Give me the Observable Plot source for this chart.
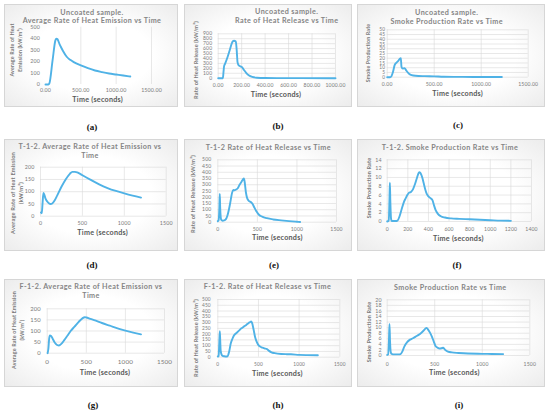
<!DOCTYPE html>
<html><head><meta charset="utf-8">
<script src="https://cdn.jsdelivr.net/npm/d3@7"></script>
<script src="https://cdn.jsdelivr.net/npm/@observablehq/plot@0.6"></script>
<style>
body{margin:0;background:#fff;}
#root{position:relative;width:550px;height:413px;overflow:hidden;font-family:Lato,"Open Sans",sans-serif;}
.panel{position:absolute;box-sizing:border-box;border:1px solid #d6d6d6;background:radial-gradient(ellipse at center,#ffffff 50%,#ececec 100%);}
.t{position:absolute;white-space:nowrap;transform:translate(-50%,-50%);font-weight:700;line-height:1;}
.r{transform:translate(-50%,-50%) rotate(-90deg);}
.cap{position:absolute;transform:translate(-50%,-50%);font-family:"Liberation Serif","DejaVu Serif",serif;font-weight:bold;font-size:9px;color:#111;}
</style></head><body><div id="root"></div><script>
// ---- data (time in seconds, values) ----
const aT = [0, 40, 55, 100, 140, 155, 170, 200, 220, 250, 300, 350, 400, 500, 600, 700, 800, 900, 1000, 1100, 1200];
const aV = [0, 0, 10, 210, 385, 400, 395, 350, 325, 290, 242, 215, 195, 166, 142, 122, 108, 96, 87, 78, 70];

const bT = [0, 40, 45, 50, 60, 80, 100, 115, 125, 135, 150, 158, 165, 175, 190, 205, 220, 240, 260, 290, 330, 400, 500, 700, 1000];
const bV = [0, 0, 120, 240, 300, 430, 580, 700, 750, 760, 745, 560, 320, 260, 240, 220, 165, 105, 60, 25, 10, 4, 2, 1, 0];

const cT = [0, 30, 45, 60, 80, 100, 120, 135, 145, 152, 165, 185, 200, 215, 235, 260, 300, 400, 500, 600, 800, 1000, 1220];
const cV = [0, 0, 1, 5, 13, 15.5, 17.5, 19.5, 20, 11, 9, 9.5, 7.5, 5.5, 3.5, 2.2, 1.5, 1.1, 0.9, 0.5, 0.3, 0.2, 0.2];

const dT = [5, 15, 25, 35, 45, 60, 80, 100, 120, 140, 170, 200, 250, 300, 350, 380, 410, 450, 500, 600, 700, 800, 900, 1000, 1100, 1200];
const dV = [15, 12, 55, 95, 88, 72, 60, 53, 50, 52, 65, 85, 120, 150, 173, 181, 181, 177, 167, 148, 130, 115, 103, 93, 84, 76];

const eT = [0, 10, 20, 25, 30, 38, 45, 60, 80, 100, 120, 140, 160, 180, 195, 210, 230, 250, 275, 300, 320, 330, 340, 355, 370, 390, 420, 440, 460, 490, 520, 560, 620, 700, 800, 900, 1000, 1040];
const eV = [8, 15, 120, 227, 120, 35, 18, 12, 14, 22, 50, 100, 165, 235, 258, 255, 262, 270, 300, 325, 345, 350, 320, 240, 195, 172, 160, 145, 120, 85, 60, 45, 32, 22, 15, 9, 4, 2];

const fT = [0, 15, 22, 26, 30, 38, 45, 60, 80, 100, 120, 140, 160, 180, 195, 210, 230, 250, 270, 290, 305, 315, 325, 340, 355, 370, 385, 400, 420, 440, 455, 470, 490, 520, 560, 620, 700, 800, 900, 1000, 1100, 1200];
const fV = [0, 0.2, 5, 8.8, 5, 0.5, 0.1, 0.1, 0.1, 0.2, 1.2, 2.8, 4.3, 5.3, 6.0, 6.5, 6.7, 7.3, 8.5, 10.0, 11.0, 11.2, 10.9, 10.0, 8.6, 7.2, 6.2, 5.7, 5.3, 4.8, 3.6, 2.6, 1.8, 1.2, 0.9, 0.7, 0.6, 0.5, 0.4, 0.3, 0.2, 0.15];

const gT = [5, 15, 25, 35, 50, 70, 90, 110, 130, 150, 180, 220, 260, 300, 350, 400, 450, 480, 500, 550, 600, 700, 800, 900, 1000, 1100, 1200];
const gV = [0, 20, 65, 80, 78, 65, 52, 42, 36, 35, 42, 60, 80, 100, 120, 140, 157, 162, 161, 155, 149, 136, 124, 112, 102, 93, 85];

const hT = [0, 10, 18, 25, 30, 35, 45, 60, 80, 100, 120, 140, 160, 180, 200, 230, 260, 290, 320, 350, 380, 400, 410, 420, 440, 460, 480, 500, 520, 550, 580, 600, 630, 660, 700, 780, 850, 900, 1000, 1100, 1230];
const hV = [6, 10, 120, 225, 140, 60, 25, 12, 8, 6, 8, 50, 120, 160, 190, 210, 230, 250, 265, 280, 297, 305, 310, 300, 240, 170, 130, 105, 92, 82, 75, 72, 55, 42, 35, 28, 26, 25, 20, 18, 17];

const iT = [0, 10, 18, 24, 30, 36, 45, 60, 80, 100, 120, 140, 160, 180, 210, 240, 270, 300, 330, 360, 390, 405, 415, 430, 450, 470, 490, 510, 530, 550, 570, 590, 610, 640, 680, 750, 850, 1000, 1100, 1220];
const iV = [0.2, 0.4, 5, 11.3, 5, 1.5, 0.6, 0.4, 0.4, 0.4, 0.4, 0.5, 1.5, 3.2, 4.8, 5.7, 6.2, 6.8, 7.4, 8.2, 9.2, 9.8, 9.9, 9.3, 8.2, 6.8, 5, 3.3, 2.8, 2.5, 2.6, 2.8, 2.0, 1.4, 1.1, 0.9, 0.7, 0.6, 0.55, 0.5];

// tick labels
const xTicks1500 = [0, 500, 1000, 1500];
const xTicks1000 = [0, 200, 400, 600, 800, 1000];
const xTicks1400 = [0, 200, 400, 600, 800, 1000, 1200, 1400];
const yTicksA = [0, 100, 200, 300, 400, 500];
const yTicksB = d3.range(0, 901, 100);
const yTicksC = d3.range(0, 51, 5);
const yTicksD = [0, 50, 100, 150, 200];
const yTicksE = d3.range(0, 501, 50);
const yTicksF = d3.range(0, 15, 2);
const yTicksI = d3.range(0, 21, 2);

const captions = ["(a)", "(b)", "(c)", "(d)", "(e)", "(f)", "(g)", "(h)", "(i)"];
const titles = [
  ["Uncoated sample.", "Average Rate of Heat Emission vs Time"],
  ["Uncoated sample.", "Rate of Heat Release vs Time"],
  ["Uncoated sample.", "Smoke Production Rate vs Time"],
  ["T-1-2. Average Rate of Heat Emission vs", "Time"],
  ["T-1-2 Rate of Heat Release vs Time"],
  ["T-1-2. Smoke Production Rate vs Time"],
  ["F-1-2. Average Rate of Heat Emission vs", "Time"],
  ["F-1-2. Rate of Heat Release vs Time"],
  ["Smoke Production Rate vs Time"]
];
const yTitles = [
  ["Average Rate of Heat", "Emission (kW/m²)"],
  ["Rate of Heat Release (kW/m²)"],
  ["Smoke Production Rate"],
  ["Average Rate of Heat Emission", "(kW/m²)"],
  ["Rate of Heat Release (kW/m²)"],
  ["Smoke Production Rate"],
  ["Average Rate of Heat Emission", "(kW/m²)"],
  ["Rate of Heat Release (kW/m²)"],
  ["Smoke Production Rate"]
];
const xTitle = "Time (seconds)";

// ---- layout / style config ----
const f2 = d3.format(".2f"), f0 = d3.format("d");
const panels = [
  {T:aT,V:aV, box:[4,4,174,103], m:[22.7,27,23,41], xd:[0,1500], yd:[0,500], xt:xTicks1500, yt:yTicksA, gx:[500,1000,1500], gy:[], xf:f2, yf:f0, xfs:5.3, yfs:5.3, xp:4, yp:5.5,
   tc:[92,[13.3,21]], ytc:[[12.7,20.7],50,5.3], xtc:[97.7,100], cap:[92,127], curve:"monotone-x"},
  {T:bT,V:bV, box:[184,4,168,103], m:[29.3,17,29.3,33.7], xd:[0,1000], yd:[0,900], xt:xTicks1000, yt:yTicksB, gx:[0,200,400,600,800,1000], gy:yTicksB, xf:f2, yf:f0, xfs:5.1, yfs:5, xp:4.7, yp:6,
   tc:[286.7,[12.3,20.7]], ytc:[[196],60,5.6], xtc:[276,95], cap:[278,126], curve:"monotone-x"},
  {T:cT,V:cV, box:[357,4,188,103], m:[25.3,17.3,30.3,29.7], xd:[0,1500], yd:[0,50], xt:xTicks1500, yt:yTicksC, gx:[0,500,1000,1500], gy:yTicksC, xf:f2, yf:f0, xfs:5.1, yfs:4.8, xp:5, yp:2,
   tc:[446.7,[13.3,21.7]], ytc:[[369],53.3,5.3], xtc:[457.7,94.3], cap:[458,125], curve:"monotone-x"},
  {T:dT,V:dV, box:[4,139,174,112], m:[27.7,12.3,35.3,36], xd:[0,1500], yd:[0,200], xt:xTicks1500, yt:yTicksD, gx:[0,500,1000,1500], gy:yTicksD, xf:f0, yf:f0, xfs:5.3, yfs:5.3, xp:5, yp:6,
   tc:[90,[147.3,156]], ytc:[[13.3,20.7],193.3,5.7], xtc:[102.7,233.3], cap:[92,265], curve:"monotone-x"},
  {T:eT,V:eV, box:[184,139,168,112], m:[20.3,16,29.3,33.3], xd:[0,1500], yd:[0,500], xt:xTicks1500, yt:yTicksE, gx:[0,500,1000,1500], gy:yTicksE, xf:f0, yf:f0, xfs:5.1, yfs:5.1, xp:5, yp:6.4,
   tc:[268.3,[148.3]], ytc:[[193.3],194,5.6], xtc:[277.3,238.3], cap:[274,265], curve:"monotone-x"},
  {T:fT,V:fV, box:[357,139,188,112], m:[20.3,14,30,29.7], xd:[0,1400], yd:[0,14], xt:xTicks1400, yt:yTicksF, gx:xTicks1400, gy:yTicksF, xf:f0, yf:f0, xfs:5.1, yfs:5.3, xp:5.7, yp:5.5,
   tc:[450,[148.3]], ytc:[[370],188,5.5], xtc:[458.3,239.3], cap:[457,265], curve:"monotone-x"},
  {T:gT,V:gV, box:[4,279,174,108], m:[29.3,14,34.3,42.7], xd:[0,1500], yd:[0,200], xt:xTicks1500, yt:yTicksD, gx:[0,500,1000,1500], gy:yTicksD, xf:f0, yf:f0, xfs:6.3, yfs:5.8, xp:6.8, yp:6.5,
   tc:[91,[287.3,296]], ytc:[[15,22.7],330,5.4], xtc:[105,373.3], cap:[93,405], curve:"monotone-x"},
  {T:hT,V:hV, box:[184,279,168,108], m:[20,12.7,30.3,33.3], xd:[0,1500], yd:[0,500], xt:xTicks1500, yt:yTicksE, gx:[0,500,1000,1500], gy:yTicksE, xf:f0, yf:f0, xfs:4.8, yfs:4.8, xp:5.1, yp:7,
   tc:[267.5,[286.7]], ytc:[[196],338,5.6], xtc:[277.3,374], cap:[278,405], curve:"monotone-x"},
  {T:iT,V:iV, box:[357,279,188,108], m:[20.3,15.7,32,29.7], xd:[0,1500], yd:[0,20], xt:xTicks1500, yt:yTicksI, gx:[0,500,1000,1500], gy:yTicksI, xf:f0, yf:f0, xfs:5.1, yfs:5.3, xp:6.4, yp:5.5,
   tc:[450.3,[288.3]], ytc:[[370],332,5.5], xtc:[454.3,373.3], cap:[459,405], curve:"monotone-x"}
];

const root = document.getElementById("root");
function addText(cls, txt, x, y, css) {
  const d = document.createElement("div");
  d.className = cls; d.textContent = txt;
  d.style.left = x + "px"; d.style.top = y + "px";
  Object.assign(d.style, css || {});
  root.appendChild(d);
}

panels.forEach((p, k) => {
  const [bx, by, bw, bh] = p.box;
  const bg = document.createElement("div");
  bg.className = "panel";
  Object.assign(bg.style, {left: bx + "px", top: by + "px", width: bw + "px", height: bh + "px"});
  root.appendChild(bg);

  const data = p.T.map((t, j) => ({t, v: p.V[j]}));
  const chart = Plot.plot({
    width: bw, height: bh,
    marginTop: p.m[0], marginRight: p.m[1], marginBottom: p.m[2], marginLeft: p.m[3],
    style: {background: "transparent", color: "#7a7a7a", fontFamily: "Lato, 'Open Sans', sans-serif", overflow: "visible", letterSpacing: "0.15px"},
    x: {domain: p.xd},
    y: {domain: p.yd},
    marks: [
      Plot.gridY(p.gy, {stroke: "#d9d9d9", strokeOpacity: 1, strokeWidth: 0.6}),
      Plot.gridX(p.gx, {stroke: "#d9d9d9", strokeOpacity: 1, strokeWidth: 0.6}),
      Plot.axisY(p.yt, {tickSize: 0, tickPadding: p.yp, fontSize: p.yfs, tickFormat: p.yf, label: null}),
      Plot.axisX(p.xt, {tickSize: 0, tickPadding: p.xp, fontSize: p.xfs, tickFormat: p.xf, label: null}),
      Plot.line(data, {x: "t", y: "v", stroke: "#4fb2e6", strokeWidth: 1.9, curve: p.curve})
    ]
  });
  Object.assign(chart.style, {position: "absolute", left: bx + "px", top: by + "px"});
  root.appendChild(chart);

  titles[k].forEach((line, j) => addText("t", line, p.tc[0], p.tc[1][j], {fontSize: "7.2px", letterSpacing: "0.4px", color: "#858585"}));
  yTitles[k].forEach((line, j) => addText("t r", line, p.ytc[0][j], p.ytc[1], {fontSize: p.ytc[2] + "px", letterSpacing: "0.15px", color: "#7a7a7a"}));
  addText("t", xTitle, p.xtc[0], p.xtc[1], {fontSize: "7.2px", letterSpacing: "0.25px", color: "#595959"});
  addText("cap", captions[k], p.cap[0], p.cap[1]);
});
</script></body></html>
